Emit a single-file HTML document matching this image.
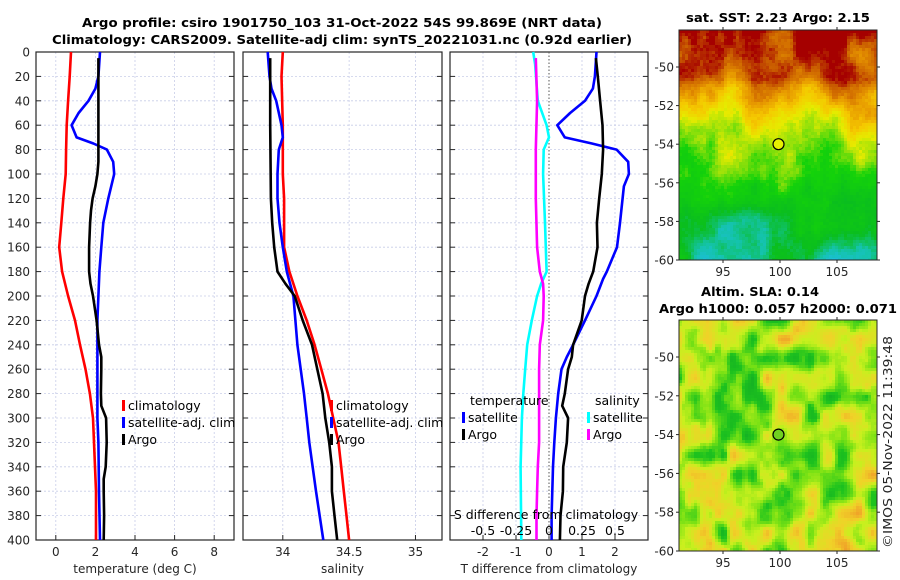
<!DOCTYPE html>
<html><head><meta charset="utf-8">
<style>
html,body{margin:0;padding:0;background:#fff;}
svg{display:block;font-family:"DejaVu Sans","Liberation Sans",sans-serif;}
.tk{font-size:12px;fill:#262626;}
.ttl{font-size:12.5px;font-weight:bold;fill:#000;}
.lg{font-size:12.5px;fill:#000;}
</style></head>
<body>
<svg id="fig" width="900" height="580" viewBox="0 0 900 580">
<text class="ttl" x="342" y="27" text-anchor="middle" textLength="520" lengthAdjust="spacingAndGlyphs">Argo profile: csiro 1901750_103 31-Oct-2022 54S 99.869E (NRT data)</text>
<text class="ttl" x="342" y="44" text-anchor="middle" textLength="580" lengthAdjust="spacingAndGlyphs">Climatology: CARS2009. Satellite-adj clim: synTS_20221031.nc (0.92d earlier)</text>
<text class="ttl" x="778" y="22" text-anchor="middle" textLength="184" lengthAdjust="spacingAndGlyphs">sat. SST: 2.23 Argo: 2.15</text>
<text class="ttl" x="760" y="296" text-anchor="middle" textLength="118" lengthAdjust="spacingAndGlyphs">Altim. SLA: 0.14</text>
<text class="ttl" x="778" y="313" text-anchor="middle" textLength="238" lengthAdjust="spacingAndGlyphs">Argo h1000: 0.057 h2000: 0.071</text>
<text class="tk" transform="translate(892,442) rotate(-90)" text-anchor="middle" textLength="212" lengthAdjust="spacingAndGlyphs">©IMOS 05-Nov-2022 11:39:48</text>
<g id="plots"></g>
</svg>
<script>
const depthTicks=[0,20,40,60,80,100,120,140,160,180,200,220,240,260,280,300,320,340,360,380,400];
// panel 1: temperature
const tDepth=[0,20,40,60,80,100,120,140,160,180,200,220,240,260,280,300,320,340,360,380,400];
const tClim=[0.77,0.7,0.62,0.55,0.52,0.5,0.38,0.28,0.17,0.32,0.62,0.97,1.22,1.5,1.72,1.88,1.93,1.98,2.03,2.03,2.03];
const tSatDepth=[0,20,30,40,50,60,70,75,80,90,100,120,140,160,180,200,220,260,300,320,360,400];
const tSat=[2.23,2.15,2.0,1.65,1.15,0.8,1.05,1.9,2.58,2.9,2.95,2.65,2.4,2.3,2.2,2.15,2.1,2.1,2.1,2.15,2.18,2.23];
const tArgoDepth=[5,40,90,100,110,120,130,140,160,180,190,200,220,240,250,260,280,290,300,320,340,350,360,380,400];
const tArgo=[2.15,2.15,2.15,2.1,2.0,1.86,1.78,1.73,1.68,1.68,1.75,1.88,2.06,2.18,2.3,2.3,2.28,2.3,2.54,2.57,2.52,2.42,2.42,2.44,2.42];
const tTicks=[0,2,4,6,8];
// panel 2: salinity
const sClimDepth=[0,20,60,100,120,160,180,200,220,240,260,280,300,320,340,360,380,400];
const sClim=[34.0,33.99,34.0,34.0,34.01,34.01,34.05,34.11,34.18,34.24,34.29,34.34,34.38,34.42,34.44,34.46,34.48,34.5];
const sSatDepth=[0,20,30,40,60,70,80,100,120,140,160,180,200,240,280,300,320,360,400];
const sSat=[33.886,33.9,33.915,33.95,33.99,34.0,33.97,33.96,33.96,33.975,34.0,34.03,34.08,34.11,34.16,34.18,34.2,34.25,34.305];
const sArgoDepth=[5,60,120,140,160,180,190,200,220,240,260,280,300,320,340,360,380,400];
const sArgo=[33.905,33.905,33.91,33.92,33.935,33.96,34.02,34.09,34.15,34.22,34.26,34.3,34.32,34.35,34.37,34.37,34.39,34.41];
const sTicks=[34,34.5,35];
// panel 3: differences
const dTSatDepth=[0,20,30,40,50,60,70,75,80,90,100,110,140,160,180,186,200,220,240,250,260,280,300,320,340,360,380,400];
const dTSat=[1.44,1.39,1.33,1.09,0.64,0.25,0.48,1.3,2.05,2.4,2.42,2.27,2.15,2.06,1.75,1.64,1.44,1.09,0.73,0.54,0.38,0.28,0.21,0.16,0.12,0.1,0.08,0.08];
const dTArgoDepth=[5,20,40,60,80,100,120,140,160,180,190,200,220,240,250,260,280,290,300,320,340,360,380,400];
const dTArgo=[1.42,1.48,1.55,1.62,1.64,1.6,1.52,1.45,1.47,1.34,1.2,1.09,0.99,0.73,0.69,0.58,0.48,0.4,0.58,0.54,0.43,0.42,0.35,0.33];
const dSSatDepth=[0,10,40,60,70,80,100,140,180,190,200,220,240,260,280,300,340,400];
const dSSat=[-0.12,-0.105,-0.085,-0.018,0,-0.04,-0.045,-0.03,-0.018,-0.06,-0.09,-0.13,-0.165,-0.18,-0.195,-0.205,-0.215,-0.21];
const dSArgoDepth=[5,40,80,120,160,180,190,200,220,240,260,300,320,340,360,380,400];
const dSArgo=[-0.1,-0.09,-0.1,-0.1,-0.09,-0.07,-0.045,-0.04,-0.045,-0.07,-0.075,-0.075,-0.075,-0.085,-0.09,-0.095,-0.095];
const dTTicks=[-2,-1,0,1,2];
const dSTicks=[-0.5,-0.25,0,0.25,0.5];
const dSTickLabels=["-0.5","-0.25","0","0.25","0.5"];
const mapLonTicks=[95,100,105];
const mapLatTicks=[-50,-52,-54,-56,-58,-60];
const argoLon=99.869, argoLat=-54;

const NS="http://www.w3.org/2000/svg";
const root=document.getElementById('plots');
function mk(tag,attrs,parent){const e=document.createElementNS(NS,tag);for(const k in attrs)e.setAttribute(k,attrs[k]);(parent||root).appendChild(e);return e;}
const Y0=52,Y1=540;
const yD=d=>Y0+d/400*(Y1-Y0);
function lin(d0,d1,p0,p1){return v=>p0+(v-d0)/(d1-d0)*(p1-p0);}

function panel(name,x0,x1,xs,xticks,xlabels,xtitle,vgrid){
  const g=mk('g',{});
  
  
  depthTicks.forEach(d=>{const l=mk('line',{x1:x0,x2:x1,y1:yD(d),y2:yD(d),stroke:'#c8cde8','stroke-width':0.8,'stroke-dasharray':'2,2'},g);
    });
  vgrid.forEach(v=>{const l=mk('line',{x1:xs(v),x2:xs(v),y1:Y0,y2:Y1,stroke:'#c8cde8','stroke-width':0.8,'stroke-dasharray':'2,2'},g);
    });
  depthTicks.forEach(d=>{mk('line',{x1:x0,x2:x0+5,y1:yD(d),y2:yD(d),stroke:'#262626'},g);mk('line',{x1:x1-5,x2:x1,y1:yD(d),y2:yD(d),stroke:'#262626'},g);});
  xticks.forEach((v,i)=>{mk('line',{x1:xs(v),x2:xs(v),y1:Y1,y2:Y1-5,stroke:'#262626'},g);
    const t=mk('text',{x:xs(v),y:556,'text-anchor':'middle',class:'tk'},g);t.textContent=xlabels[i];
    });
  const r=mk('rect',{x:x0,y:Y0,width:x1-x0,height:Y1-Y0,fill:'none',stroke:'#262626','stroke-width':1.2},g);
  
  const tt=mk('text',{x:(x0+x1)/2,y:573,'text-anchor':'middle',class:'tk'},g);tt.textContent=xtitle;
  
  return g;
}
function line(g,name,xs,vals,depths,color,w){
  const pts=vals.map((v,i)=>xs(v).toFixed(1)+','+yD(depths[i]).toFixed(1)).join(' ');
  const p=mk('polyline',{points:pts,fill:'none',stroke:color,'stroke-width':w||2.6,'stroke-linejoin':'round'},g);
  
  
}
function lgd(g,name,x,y,color,label){
  const m=mk('rect',{x:x,y:y-10,width:3,height:11,fill:color},g);
  
  const t=mk('text',{x:x+6,y:y,class:'lg'},g);t.textContent=label;
  
}
depthTicks.forEach(d=>{const t=mk('text',{x:30,y:yD(d)+4.5,'text-anchor':'end',class:'tk'});t.textContent=d;
  });

const xT=lin(-1,9,36,234);
const g1=panel('temperature-panel',36,234,xT,tTicks,tTicks.map(String),'temperature (deg C)',tTicks);
line(g1,'temp-climatology-line',xT,tClim,tDepth,'#ff0000');
line(g1,'temp-satellite-adj-line',xT,tSat,tSatDepth,'#0000ff');
line(g1,'temp-argo-line',xT,tArgo,tArgoDepth,'#000000');
lgd(g1,'legend-climatology',122,410,'#ff0000','climatology');
lgd(g1,'legend-satellite-adj',122,427,'#0000ff','satellite-adj. clim');
lgd(g1,'legend-argo',122,444,'#000000','Argo');

const xS=lin(33.7,35.2,243,442);
const g2=panel('salinity-panel',243,442,xS,sTicks,['34','34.5','35'],'salinity',[34,34.5,35]);
line(g2,'sal-climatology-line',xS,sClim,sClimDepth,'#ff0000');
line(g2,'sal-satellite-adj-line',xS,sSat,sSatDepth,'#0000ff');
line(g2,'sal-argo-line',xS,sArgo,sArgoDepth,'#000000');
lgd(g2,'legend-climatology-sal',330,410,'#ff0000','climatology');
lgd(g2,'legend-satellite-adj-sal',330,427,'#0000ff','satellite-adj. clim');
lgd(g2,'legend-argo-sal',330,444,'#000000','Argo');

const xdT=lin(-3,3,450,648);
const xdS=lin(-0.75,0.75,450,648);
const g3=panel('difference-panel',450,648,xdT,dTTicks,dTTicks.map(String),'T difference from climatology',[-2,-1,1,2]);
const zl=mk('line',{x1:xdT(0),x2:xdT(0),y1:Y0,y2:Y1,stroke:'#555','stroke-width':1,'stroke-dasharray':'1.5,2'},g3);

line(g3,'sal-diff-satellite-line',xdS,dSSat,dSSatDepth,'#00ffff');
line(g3,'sal-diff-argo-line',xdS,dSArgo,dSArgoDepth,'#ff00ff');
line(g3,'temp-diff-satellite-line',xdT,dTSat,dTSatDepth,'#0000ff');
line(g3,'temp-diff-argo-line',xdT,dTArgo,dTArgoDepth,'#000000');
{const t=mk('text',{x:470,y:405,class:'lg'},g3);t.textContent='temperature';
 const t2=mk('text',{x:595,y:405,class:'lg'},g3);t2.textContent='salinity';}
lgd(g3,'legend-temp-satellite',462,422,'#0000ff','satellite');
lgd(g3,'legend-temp-argo',462,439,'#000000','Argo');
lgd(g3,'legend-sal-satellite',587,422,'#00ffff','satellite');
lgd(g3,'legend-sal-argo',587,439,'#ff00ff','Argo');
{const t=mk('text',{x:546,y:519,'text-anchor':'middle',class:'lg'},g3);t.textContent='S difference from climatology';
 
 dSTicks.forEach((v,i)=>{const l=mk('text',{x:xdS(v),y:535,'text-anchor':'middle',class:'lg'},g3);l.textContent=dSTickLabels[i];
   });}

// map texture: hash-based value noise (image texture, not chart data)
function hash(i,j,s){let h=Math.sin(i*127.1+j*311.7+s*74.7)*43758.5453;return h-Math.floor(h);}
function vnoise(x,y,s){const i=Math.floor(x),j=Math.floor(y),fx=x-i,fy=y-j;
  const u=fx*fx*(3-2*fx),v=fy*fy*(3-2*fy);
  const a=hash(i,j,s),b=hash(i+1,j,s),c=hash(i,j+1,s),d=hash(i+1,j+1,s);
  return a+(b-a)*u+(c-a)*v+(a-b-c+d)*u*v;}
function ramp(stops,v){v=Math.max(0,Math.min(1,v));
  for(let i=1;i<stops.length;i++){if(v<=stops[i][0]){const a=stops[i-1],b=stops[i],f=(v-a[0])/(b[0]-a[0]);
    return 'rgb('+a[1].map((c,j)=>Math.round(c+(b[1][j]-c)*f)).join(',')+')';}}
  return 'rgb('+stops[stops.length-1][1].join(',')+')';}
const sstStops=[[0,[30,190,230]],[0.12,[20,195,170]],[0.25,[10,190,30]],[0.4,[20,210,10]],[0.5,[150,225,10]],[0.58,[230,235,0]],[0.68,[245,200,0]],[0.78,[230,150,0]],[0.88,[200,90,0]],[0.95,[165,0,0]],[1,[165,0,0]]];
const slaStops=[[0,[10,160,40]],[0.3,[30,195,30]],[0.45,[120,225,20]],[0.6,[200,240,30]],[0.78,[240,210,40]],[1,[240,150,40]]];
function sstBase(lat){
  const L=[-61,-59,-57,-55.5,-54,-53,-52,-51,-50.5,-49,-45];
  const V=[0.14,0.2,0.3,0.4,0.47,0.58,0.67,0.77,0.88,0.96,1];
  for(let i=1;i<L.length;i++) if(lat<=L[i]){const f=(lat-L[i-1])/(L[i]-L[i-1]);return V[i-1]+(V[i]-V[i-1])*f;}
  return 1;}
function map(name,x0,x1,yTop,yBot,latAt,isSST){
  const g=mk('g',{});
  
  const cs=3;
  for(let y=yTop;y<yBot;y+=cs){for(let x=x0;x<x1;x+=cs){
    const lat=latAt(y), lon=(x-x0)/(x1-x0)*17.4+91.1;
    let v,c;
    if(isSST){v=sstBase(lat)+0.22*(vnoise(lon*0.45,lat*0.55,1)-0.5)+0.1*(vnoise(lon*1.3,lat*1.3,2)-0.5)+0.04*(hash(x,y,3)-0.5);
      c=ramp(sstStops,v);}
    else{v=0.55+0.6*(vnoise(lon*0.75,lat*1.0,5)-0.5)+0.25*(vnoise(lon*1.6,lat*2,7)-0.5)+0.03*(hash(x,y,9)-0.5);
      c=ramp(slaStops,v);}
    mk('rect',{x:x,y:y,width:cs,height:Math.min(cs,yBot-y),fill:c},g);
  }}
  const fr=mk('rect',{x:x0,y:yTop,width:x1-x0,height:yBot-yTop,fill:'none',stroke:'#262626','stroke-width':1},g);
  
  return g;
}
function mapAxes(g,x0,x1,yTop,yBot,latY,lonX){
  mapLatTicks.forEach(l=>{const y=latY(l);mk('line',{x1:x0,x2:x0-3,y1:y,y2:y,stroke:'#262626'},g);mk('line',{x1:x1,x2:x1+3,y1:y,y2:y,stroke:'#262626'},g);
    const t=mk('text',{x:x0-5,y:y+4.5,'text-anchor':'end',class:'tk'},g);t.textContent=l;
    });
  mapLonTicks.forEach(l=>{const x=lonX(l);mk('line',{x1:x,x2:x,y1:yBot,y2:yBot+3,stroke:'#262626'},g);mk('line',{x1:x,x2:x,y1:yTop,y2:yTop-3,stroke:'#262626'},g);
    const t=mk('text',{x:x,y:yBot+16,'text-anchor':'middle',class:'tk'},g);t.textContent=l;
    });
}
const lonX=lin(95,105,723,837);
const lat1=lin(-50,-60,67,260);
const m1=map('sst-map',679,877,30,260,y=>-50+(y-67)/(260-67)*-10,true);
mapAxes(m1,679,877,30,260,lat1,lonX);
const c1=mk('circle',{cx:lonX(argoLon),cy:lat1(argoLat),r:5.5,fill:'#e8f000',stroke:'#000','stroke-width':1.2},m1);

const lat2=lin(-50,-60,357,551);
const m2=map('sla-map',679,877,320,551,y=>-50+(y-357)/(551-357)*-10,false);
mapAxes(m2,679,877,320,551,lat2,lonX);
const c2=mk('circle',{cx:lonX(argoLon),cy:lat2(argoLat),r:5.5,fill:'#70d020',stroke:'#000','stroke-width':1.2},m2);

</script>
</body></html>
